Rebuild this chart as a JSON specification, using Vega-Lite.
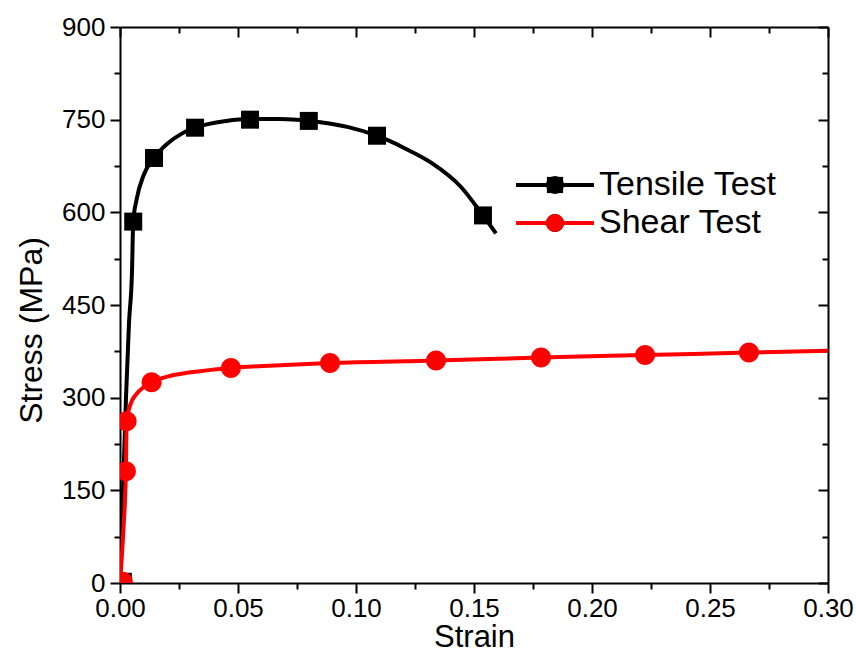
{
  "$schema": "https://vega.github.io/schema/vega-lite/v6.json",
  "width": 708,
  "height": 556,
  "autosize": "none",
  "padding": {"left": 120, "top": 27, "right": 29, "bottom": 71},
  "background": "white",
  "config": {
    "font": "Liberation Sans",
    "view": {"stroke": null},
    "axis": {"grid": false, "domainColor": "black", "domainWidth": 2, "tickColor": "black", "tickWidth": 2, "labelColor": "black", "titleColor": "black", "labelFont": "Liberation Sans", "titleFont": "Liberation Sans", "titleFontWeight": "normal", "labelFlush": false, "labelOverlap": false},
    "legend": {"labelLimit": 0}
  },
  "datasets": {
    "curves": [
      {"series": "Tensile Test", "strain": 0, "stress": 0},
      {"series": "Tensile Test", "strain": 0.0012, "stress": 140},
      {"series": "Tensile Test", "strain": 0.0025, "stress": 296},
      {"series": "Tensile Test", "strain": 0.0038, "stress": 420},
      {"series": "Tensile Test", "strain": 0.0051, "stress": 506},
      {"series": "Tensile Test", "strain": 0.0056, "stress": 585},
      {"series": "Tensile Test", "strain": 0.0071, "stress": 622},
      {"series": "Tensile Test", "strain": 0.010, "stress": 660},
      {"series": "Tensile Test", "strain": 0.0144, "stress": 688},
      {"series": "Tensile Test", "strain": 0.020, "stress": 711},
      {"series": "Tensile Test", "strain": 0.026, "stress": 727},
      {"series": "Tensile Test", "strain": 0.0318, "stress": 737},
      {"series": "Tensile Test", "strain": 0.045, "stress": 748},
      {"series": "Tensile Test", "strain": 0.0551, "stress": 751},
      {"series": "Tensile Test", "strain": 0.068, "stress": 751},
      {"series": "Tensile Test", "strain": 0.080, "stress": 748},
      {"series": "Tensile Test", "strain": 0.0968, "stress": 738},
      {"series": "Tensile Test", "strain": 0.1089, "stress": 724},
      {"series": "Tensile Test", "strain": 0.121, "stress": 703},
      {"series": "Tensile Test", "strain": 0.132, "stress": 680},
      {"series": "Tensile Test", "strain": 0.1445, "stress": 641},
      {"series": "Tensile Test", "strain": 0.1538, "stress": 595},
      {"series": "Tensile Test", "strain": 0.1593, "stress": 566},
      {"series": "Shear Test", "strain": 0, "stress": 0},
      {"series": "Shear Test", "strain": 0.0015, "stress": 90},
      {"series": "Shear Test", "strain": 0.0025, "stress": 181},
      {"series": "Shear Test", "strain": 0.0028, "stress": 262},
      {"series": "Shear Test", "strain": 0.0045, "stress": 290},
      {"series": "Shear Test", "strain": 0.007, "stress": 306},
      {"series": "Shear Test", "strain": 0.010, "stress": 317},
      {"series": "Shear Test", "strain": 0.0134, "stress": 325},
      {"series": "Shear Test", "strain": 0.02, "stress": 334},
      {"series": "Shear Test", "strain": 0.03, "stress": 341},
      {"series": "Shear Test", "strain": 0.047, "stress": 348},
      {"series": "Shear Test", "strain": 0.07, "stress": 353},
      {"series": "Shear Test", "strain": 0.089, "stress": 356},
      {"series": "Shear Test", "strain": 0.1339, "stress": 360},
      {"series": "Shear Test", "strain": 0.1784, "stress": 365},
      {"series": "Shear Test", "strain": 0.2225, "stress": 369},
      {"series": "Shear Test", "strain": 0.2665, "stress": 373},
      {"series": "Shear Test", "strain": 0.30, "stress": 376}
    ],
    "markers": [
      {"test": "Tensile Test", "strain": 0.0012, "stress": 2},
      {"test": "Tensile Test", "strain": 0.0056, "stress": 585},
      {"test": "Tensile Test", "strain": 0.0144, "stress": 688},
      {"test": "Tensile Test", "strain": 0.0318, "stress": 737},
      {"test": "Tensile Test", "strain": 0.0551, "stress": 750},
      {"test": "Tensile Test", "strain": 0.080, "stress": 748},
      {"test": "Tensile Test", "strain": 0.1089, "stress": 724},
      {"test": "Tensile Test", "strain": 0.1538, "stress": 595},
      {"test": "Shear Test", "strain": 0.0012, "stress": 2},
      {"test": "Shear Test", "strain": 0.0025, "stress": 181},
      {"test": "Shear Test", "strain": 0.0028, "stress": 262},
      {"test": "Shear Test", "strain": 0.0134, "stress": 325},
      {"test": "Shear Test", "strain": 0.047, "stress": 348},
      {"test": "Shear Test", "strain": 0.089, "stress": 356},
      {"test": "Shear Test", "strain": 0.1339, "stress": 360},
      {"test": "Shear Test", "strain": 0.1784, "stress": 365},
      {"test": "Shear Test", "strain": 0.2225, "stress": 369},
      {"test": "Shear Test", "strain": 0.2665, "stress": 373}
    ]
  },
  "resolve": {"axis": {"x": "independent", "y": "independent"}},
  "layer": [
    {
      "data": {"name": "curves"},
      "mark": {"type": "line", "strokeWidth": 4, "interpolate": "monotone", "clip": true},
      "encoding": {
        "x": {"field": "strain", "type": "quantitative", "scale": {"domain": [0, 0.3], "nice": false, "zero": false},
          "axis": {"orient": "bottom", "title": "Strain", "values": [0, 0.025, 0.05, 0.075, 0.1, 0.125, 0.15, 0.175, 0.2, 0.225, 0.25, 0.275, 0.3],
            "labelExpr": "abs(datum.value*20 - round(datum.value*20)) < 1e-6 ? format(datum.value, '.2f') : ''",
            "tickSize": {"condition": {"test": "abs(datum.value*20 - round(datum.value*20)) < 1e-6", "value": 10}, "value": 6},
            "labelFontSize": 26, "labelPadding": 2, "titleFontSize": 31, "titlePadding": 1}},
        "y": {"field": "stress", "type": "quantitative", "scale": {"domain": [0, 900], "nice": false},
          "axis": {"orient": "left", "title": "Stress (MPa)", "values": [0, 75, 150, 225, 300, 375, 450, 525, 600, 675, 750, 825, 900],
            "labelExpr": "datum.value % 150 === 0 ? datum.label : ''",
            "tickSize": {"condition": {"test": "datum.value % 150 === 0", "value": 10}, "value": 6},
            "labelFontSize": 26, "labelPadding": 5, "titleFontSize": 32, "titlePadding": 13, "titleY": 303}},
        "stroke": {"field": "series", "type": "nominal", "scale": {"domain": ["Tensile Test", "Shear Test"], "range": ["#000000", "#ff0000"]},
          "legend": {"orient": "none", "legendX": 418, "legendY": 141, "title": null, "padding": 0, "symbolSize": 324, "symbolType": "M-4.33,0H4.33", "labelOffset": 27, "labelFontSize": 34, "labelFont": "Liberation Sans", "labelColor": "black", "rowPadding": 4, "symbolStrokeWidth": 4}}
      }
    },
    {
      "data": {"name": "markers"},
      "mark": {"type": "point", "filled": true, "opacity": 1, "size": 400, "clip": true},
      "encoding": {
        "x": {"field": "strain", "type": "quantitative", "scale": {"domain": [0, 0.3], "nice": false, "zero": false},
          "axis": {"orient": "top", "title": null, "labels": false, "values": [0, 0.025, 0.05, 0.075, 0.1, 0.125, 0.15, 0.175, 0.2, 0.225, 0.25, 0.275, 0.3],
            "tickSize": {"condition": {"test": "abs(datum.value*20 - round(datum.value*20)) < 1e-6", "value": -10}, "value": -6}}},
        "y": {"field": "stress", "type": "quantitative", "scale": {"domain": [0, 900], "nice": false},
          "axis": {"orient": "right", "title": null, "labels": false, "values": [0, 75, 150, 225, 300, 375, 450, 525, 600, 675, 750, 825, 900],
            "tickSize": {"condition": {"test": "datum.value % 150 === 0", "value": -10}, "value": -6}}},
        "fill": {"field": "test", "type": "nominal", "sort": ["Tensile Test", "Shear Test"], "scale": {"range": ["#000000", "#ff0000"]},
          "legend": {"orient": "none", "legendX": 418, "legendY": 141, "title": null, "padding": 0, "symbolSize": 324, "labelOffset": 27, "labelFontSize": 34, "labelFont": "Liberation Sans", "labelOpacity": 0, "rowPadding": 4, "symbolStrokeWidth": 0}},
        "shape": {"field": "test", "type": "nominal", "sort": ["Tensile Test", "Shear Test"], "scale": {"range": ["M-0.9,-0.9H0.9V0.9H-0.9Z", "M-1,0A1,1 0 1,0 1,0A1,1 0 1,0 -1,0Z"]},
          "legend": {"orient": "none", "legendX": 418, "legendY": 141, "title": null, "padding": 0, "symbolSize": 324, "labelOffset": 27, "labelFontSize": 34, "labelFont": "Liberation Sans", "labelOpacity": 0, "rowPadding": 4, "symbolStrokeWidth": 0}}
      }
    }
  ]
}
